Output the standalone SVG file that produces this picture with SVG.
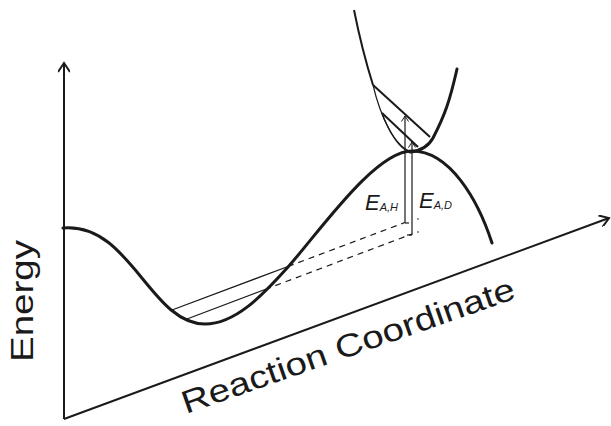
<svg xmlns="http://www.w3.org/2000/svg" width="611" height="426" viewBox="0 0 611 426">
<style>
.thick{fill:none;stroke:#1a1a1a;stroke-width:3;stroke-linecap:round;stroke-linejoin:round}
.axis{fill:none;stroke:#1a1a1a;stroke-width:2}
.thin{fill:none;stroke:#1a1a1a;stroke-width:1.2}
.med{fill:none;stroke:#1a1a1a;stroke-width:2}
.dash{fill:none;stroke:#1a1a1a;stroke-width:1.2;stroke-dasharray:6 5}
.lbl{font-family:"Liberation Sans",Arial,sans-serif;fill:#1a1a1a}
</style>
<defs>
<marker id="ah" markerWidth="12" markerHeight="12" refX="10" refY="6" orient="auto" markerUnits="userSpaceOnUse">
<path d="M1,0 L10,6 L1,12" fill="none" stroke="#1a1a1a" stroke-width="2"/>
</marker>
<marker id="sh" markerWidth="8" markerHeight="8" refX="6" refY="4" orient="auto" markerUnits="userSpaceOnUse">
<path d="M0.5,0.5 L6,4 L0.5,7.5" fill="none" stroke="#1a1a1a" stroke-width="1"/>
</marker>
</defs>
<g id="axes">
<line class="axis" x1="64" y1="419" x2="64" y2="63" marker-end="url(#ah)"/>
<line class="axis" x1="64" y1="419" x2="609" y2="218" marker-end="url(#ah)"/>
</g>
<g id="labels">
<text class="lbl" font-size="32" transform="translate(33,362) rotate(-90)" textLength="122" lengthAdjust="spacingAndGlyphs">Energy</text>
<text class="lbl" font-size="32" transform="translate(186,414) rotate(-19.3)" textLength="351" lengthAdjust="spacingAndGlyphs">Reaction Coordinate</text>
</g>
<g id="energy-curve">
<path class="thick" d="M63,228 C130,222 150,324 205,324 C235,324 262,296 288,267 C320,231 375,151 412,151 C450,151 478,200 492,243"/>
</g>
<g id="upper-well">
<path class="med" d="M354,10 Q362,50 373,85"/>
<path class="thin" d="M373,85 C380,115 395,148 410,152"/>
<path class="thin" d="M382,113 C388,130 398,146 409,151"/>
<path class="thick" d="M410,152 C420,151 428,147 433,138 C445,115 450,100 457,69"/>
<line class="med" x1="373" y1="85" x2="430" y2="137"/>
<line class="med" x1="382" y1="113" x2="418" y2="147"/>
</g>
<g id="levels">
<line class="thin" x1="172" y1="310" x2="288" y2="266.5"/>
<line class="dash" x1="288" y1="266.5" x2="405" y2="222.5"/>
<line class="thin" x1="187" y1="319" x2="265" y2="289.5"/>
<line class="dash" x1="265" y1="289.5" x2="412" y2="234"/>
<circle cx="418" cy="219" r="0.8" fill="#1a1a1a"/>
<circle cx="418" cy="232" r="0.8" fill="#1a1a1a"/>
</g>
<g id="connectors">
<line class="thin" x1="405" y1="223" x2="405" y2="116" marker-end="url(#sh)"/>
<line class="thin" x1="405" y1="223" x2="409" y2="223"/>
<line class="thin" x1="412" y1="235" x2="412" y2="142" marker-end="url(#sh)"/>
<line class="thin" x1="407" y1="235" x2="412" y2="235"/>
</g>
<g id="ea-labels">
<text class="lbl" font-size="22" font-style="italic" x="365" y="210">E<tspan font-size="11" dy="1">A,H</tspan></text>
<text class="lbl" font-size="22" font-style="italic" x="419" y="208">E<tspan font-size="11" dy="1">A,D</tspan></text>
</g>
</svg>
